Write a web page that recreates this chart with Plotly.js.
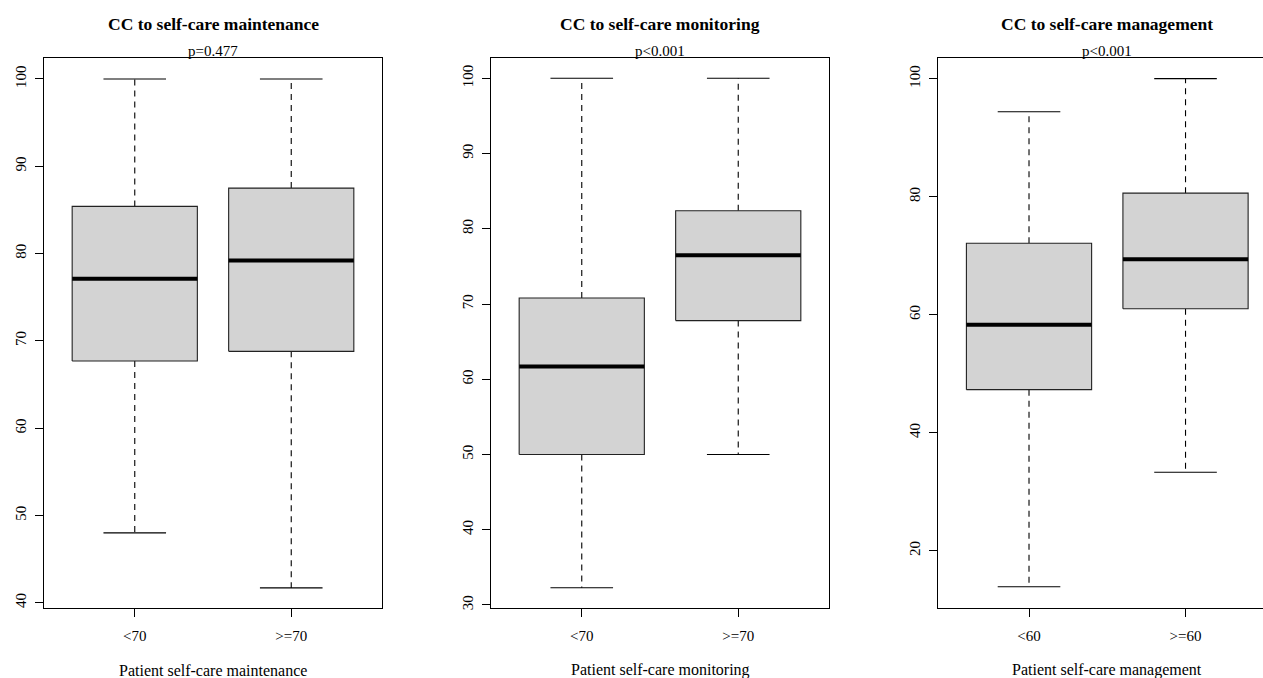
<!DOCTYPE html>
<html>
<head>
<meta charset="utf-8">
<script src="https://cdn.plot.ly/plotly-3.0.1.min.js"></script>
<style>html,body{margin:0;padding:0;background:#fff;}#chart{width:1263px;height:678px;}</style>
</head>
<body>
<div id="chart"></div>
<script>
// ---- data ----
const panelTitles = ['CC to self-care maintenance', 'CC to self-care monitoring', 'CC to self-care management'];
const pValues = ['p=0.477', 'p<0.001', 'p<0.001'];
const xLabels = ['Patient self-care maintenance', 'Patient self-care monitoring', 'Patient self-care management'];

const maintCats = ['<70', '>=70'];
const maintLower = [48.0, 41.7];
const maintQ1 = [67.7, 68.8];
const maintMedian = [77.1, 79.2];
const maintQ3 = [85.4, 87.5];
const maintUpper = [100, 100];

const monitCats = ['<70', '>=70'];
const monitLower = [32.3, 50.0];
const monitQ1 = [50.0, 67.8];
const monitMedian = [61.7, 76.5];
const monitQ3 = [70.8, 82.4];
const monitUpper = [100, 100];

const mgmtCats = ['<60', '>=60'];
const mgmtLower = [13.9, 33.3];
const mgmtQ1 = [47.3, 61.0];
const mgmtMedian = [58.3, 69.4];
const mgmtQ3 = [72.1, 80.6];
const mgmtUpper = [94.4, 100];

// ---- build ----
const panels = [
  {cats: maintCats, lo: maintLower, q1: maintQ1, med: maintMedian, q3: maintQ3, hi: maintUpper},
  {cats: monitCats, lo: monitLower, q1: monitQ1, med: monitMedian, q3: monitQ3, hi: monitUpper},
  {cats: mgmtCats, lo: mgmtLower, q1: mgmtQ1, med: mgmtMedian, q3: mgmtQ3, hi: mgmtUpper}
];

const BOXHALF = 0.4, CAPHALF = 0.2;
const serif = 'Liberation Serif, Times New Roman, serif';
const traces = [];
panels.forEach((p, k) => {
  const xa = k === 0 ? 'x' : 'x' + (k + 1);
  const ya = k === 0 ? 'y' : 'y' + (k + 1);
  p.cats.forEach((c, i) => {
    const xc = i + 1;
    const common = {xaxis: xa, yaxis: ya, mode: 'lines', hoverinfo: 'skip', showlegend: false};
    traces.push(Object.assign({}, common, {
      x: [xc, xc, null, xc, xc], y: [p.q3[i], p.hi[i], null, p.q1[i], p.lo[i]],
      line: {color: '#000', width: 1.1, dash: '6px,5px'}
    }));
    traces.push(Object.assign({}, common, {
      x: [xc - CAPHALF, xc + CAPHALF, null, xc - CAPHALF, xc + CAPHALF],
      y: [p.hi[i], p.hi[i], null, p.lo[i], p.lo[i]],
      line: {color: '#000', width: 1.1}
    }));
    traces.push(Object.assign({}, common, {
      x: [xc - BOXHALF, xc + BOXHALF, xc + BOXHALF, xc - BOXHALF, xc - BOXHALF],
      y: [p.q1[i], p.q1[i], p.q3[i], p.q3[i], p.q1[i]],
      fill: 'toself', fillcolor: '#d3d3d3',
      line: {color: '#222', width: 1.1}
    }));
    traces.push(Object.assign({}, common, {
      x: [xc - BOXHALF, xc + BOXHALF], y: [p.med[i], p.med[i]],
      line: {color: '#000', width: 4}
    }));
  });
});

const xDomains = [[44/1263, 382/1263], [491/1263, 829/1263], [938/1263, 1]];
const xRanges = [[0.42, 2.58], [0.42, 2.58], [0.4185, 2.495]];
const yRanges = [[39.4, 102.4], [29.6, 102.7], [10.3, 103.5]];
const yDticks = [10, 10, 20];
const yDomain = [1 - 608/678, 1 - 58/678];

const layout = {
  width: 1263, height: 678,
  margin: {l: 0, r: 0, t: 0, b: 0},
  paper_bgcolor: '#fff', plot_bgcolor: '#fff',
  showlegend: false,
  font: {family: serif, color: '#000', size: 15},
  annotations: []
};

panels.forEach((p, k) => {
  const sfx = k === 0 ? '' : String(k + 1);
  const xa = 'x' + sfx, ya = 'y' + sfx;
  layout['xaxis' + sfx] = {
    domain: xDomains[k], range: xRanges[k], anchor: ya,
    tickmode: 'array', tickvals: p.cats.map((c, i) => i + 1), ticktext: p.cats,
    ticks: 'outside', ticklen: 8, tickwidth: 1, tickcolor: '#000', ticklabelstandoff: 6,
    showline: true, linecolor: '#000', linewidth: 1.2, mirror: true,
    showgrid: false, zeroline: false,
    tickfont: {family: serif, size: 15, color: '#000'}, fixedrange: true
  };
  layout['yaxis' + sfx] = {
    domain: yDomain, range: yRanges[k], anchor: xa,
    tickmode: 'linear', tick0: 0, dtick: yDticks[k],
    ticks: 'outside', ticklen: 8, tickwidth: 1, tickcolor: '#000', tickangle: -90, ticklabelstandoff: 3,
    showline: true, linecolor: '#000', linewidth: 1.2, mirror: k < 2,
    showgrid: false, zeroline: false,
    tickfont: {family: serif, size: 15, color: '#000'}, fixedrange: true
  };
  layout.annotations.push({
    text: '<b>' + panelTitles[k] + '</b>', xref: xa, x: 1.5, yref: 'paper', y: 1 - 24/678,
    xanchor: 'center', yanchor: 'middle', showarrow: false,
    font: {family: serif, size: 17.5, color: '#000'}
  });
  layout.annotations.push({
    text: pValues[k], xref: xa, x: 1.5, yref: 'paper', y: 1 - 51/678,
    xanchor: 'center', yanchor: 'middle', showarrow: false,
    font: {family: serif, size: 15, color: '#000'}
  });
  layout.annotations.push({
    text: xLabels[k], xref: xa, x: 1.5, yref: 'paper', y: 1 - 670/678,
    xanchor: 'center', yanchor: 'middle', showarrow: false,
    font: {family: serif, size: 16, color: '#000'}
  });
});

Plotly.newPlot('chart', traces, layout, {displayModeBar: false, staticPlot: true});
</script>
</body>
</html>
